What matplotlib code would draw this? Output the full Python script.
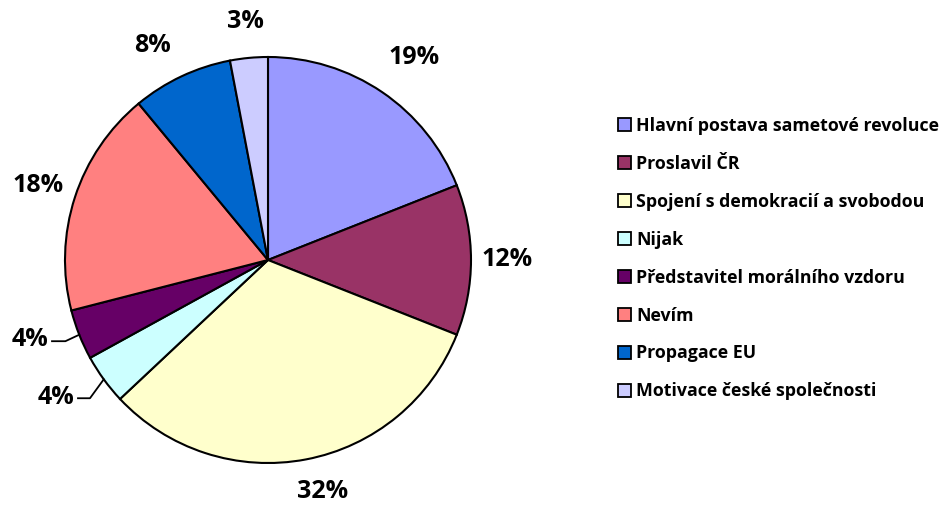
import numpy as np
import matplotlib
matplotlib.use("Agg")
import matplotlib.pyplot as plt
from matplotlib.patches import Patch

categories = ["Hlavní postava sametové revoluce", "Proslavil ČR",
              "Spojení s demokracií a svobodou", "Nijak",
              "Představitel morálního vzdoru", "Nevím",
              "Propagace EU", "Motivace české společnosti"]
values = [19, 12, 32, 4, 4, 18, 8, 3]
colors = ["#9999FF", "#993366", "#FFFFCC", "#CCFFFF", "#660066",
          "#FF8080", "#0066CC", "#CCCCFF"]

plt.rcParams['font.family'] = ['Open Sans', 'DejaVu Sans']
plt.rcParams['font.weight'] = 'bold'

fig = plt.figure(figsize=(9.47, 5.05), dpi=100)
W, H = 947, 505
cx, cy, R = 268, 260, 203
ax = fig.add_axes([(cx - R) / W, (H - cy - R) / H, 2 * R / W, 2 * R / H])
wedges, _ = ax.pie(values, colors=colors, startangle=90, counterclock=False,
                   wedgeprops=dict(edgecolor="black", linewidth=1.5))
ax.set_xlim(-1, 1)
ax.set_ylim(-1, 1)
ax.set_aspect("equal")
ax.axis("off")

total = sum(values)
start = 90.0
label_r = [1.23, 1.18, 1.17, None, None, 1.19, 1.2, 1.18]
label_dang = [-1.5, 0, 2.5, 0, 0, 0, 3, 0]
# leader lines: (text right x, text y, line start x, elbow x)
leaders = {3: (-0.955, -0.675, -0.936, -0.877),
           4: (-1.08, -0.394, -1.064, -0.998)}
for i, v in enumerate(values):
    ang = start - 360 * v / total / 2
    start -= 360 * v / total
    txt = f"{v}%"
    if i in leaders:
        t = np.deg2rad(ang)
        ex, ey = np.cos(t), np.sin(t)
        tx, ty, lx, bx = leaders[i]
        ly = ty - 0.006
        ax.plot([lx, bx, ex], [ly, ly, ey], color="black", lw=1.3,
                clip_on=False)
        ax.text(tx, ty, txt, ha="right", va="center", fontsize=18,
                fontweight="bold", clip_on=False)
    else:
        t = np.deg2rad(ang + label_dang[i])
        r = label_r[i]
        ax.text(r * np.cos(t), r * np.sin(t), txt, ha="center", va="center",
                fontsize=18, fontweight="bold", clip_on=False)

handles = [Patch(facecolor=c, edgecolor="black", linewidth=1.3) for c in colors]
leg = fig.legend(handles, categories, loc="upper left",
                 bbox_to_anchor=(618 / W, 1 - 117 / H), frameon=False,
                 fontsize=12.8, handlelength=0.72, handleheight=0.72,
                 handletextpad=0.3, labelspacing=1.12, borderpad=0,
                 borderaxespad=0)
for t in leg.get_texts():
    t.set_fontweight("bold")

fig.savefig("out.png", dpi=100, facecolor="white")
